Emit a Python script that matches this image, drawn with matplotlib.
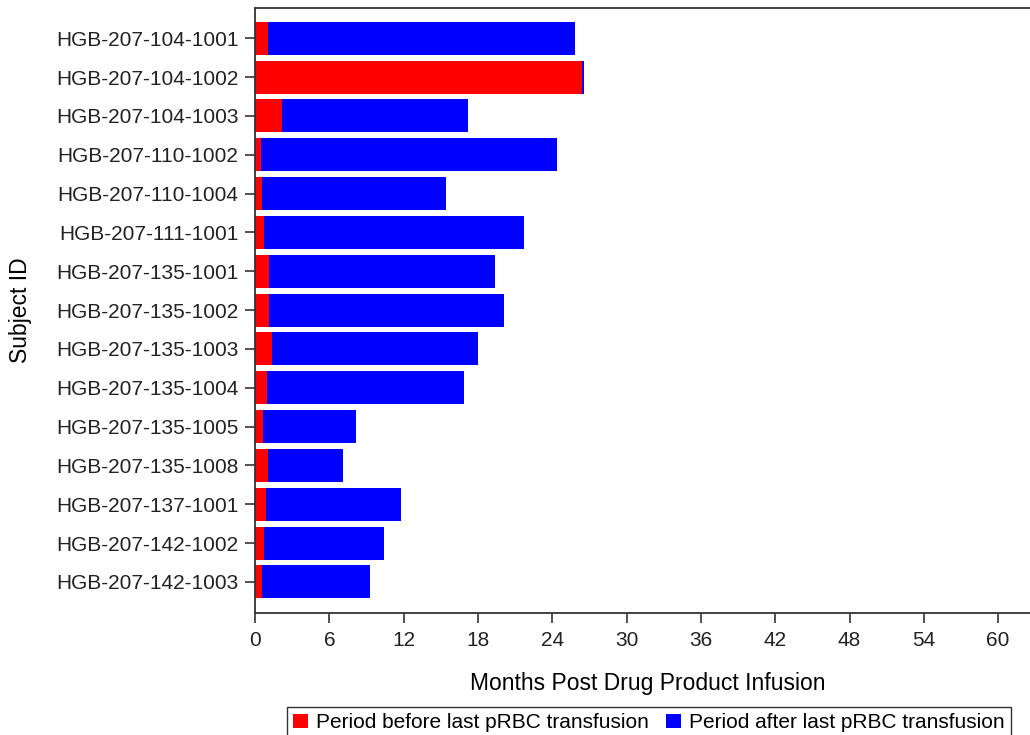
import matplotlib.pyplot as plt
import matplotlib as mpl

mpl.rcParams["font.family"] = ["Liberation Sans", "DejaVu Sans"]

subjects = ["HGB-207-104-1001", "HGB-207-104-1002", "HGB-207-104-1003",
            "HGB-207-110-1002", "HGB-207-110-1004", "HGB-207-111-1001",
            "HGB-207-135-1001", "HGB-207-135-1002", "HGB-207-135-1003",
            "HGB-207-135-1004", "HGB-207-135-1005", "HGB-207-135-1008",
            "HGB-207-137-1001", "HGB-207-142-1002", "HGB-207-142-1003"]
# months before last pRBC transfusion
before = [1.08, 26.4, 2.16, 0.49, 0.54, 0.76, 1.1, 1.1, 1.35, 0.95,
          0.62, 1.05, 0.87, 0.76, 0.54]
# total follow-up months
total = [25.8, 26.55, 17.2, 24.35, 15.4, 21.7, 19.4, 20.1, 18.0, 16.9,
         8.15, 7.1, 11.8, 10.45, 9.25]
after = [t - b for t, b in zip(total, before)]

fig = plt.figure(figsize=(10.3, 7.35), dpi=100)
ax = fig.add_axes([255 / 1030, 1 - 613 / 735, 1 - 255 / 1030 + 0.01, (613 - 8) / 735])

ypos = list(range(len(subjects)))
ax.barh(ypos, before, height=0.85, color="#ff0000", edgecolor="none",
        label="Period before last pRBC transfusion")
ax.barh(ypos, after, left=before, height=0.85, color="#0000ff", edgecolor="none",
        label="Period after last pRBC transfusion")

ax.set_ylim(14.8, -0.78)
ax.set_xlim(0, 63.4)
ax.set_yticks(ypos)
ax.set_yticklabels(subjects)
ax.set_xticks(range(0, 61, 6))
ax.tick_params(labelsize=15, colors="#333333", labelcolor="#222222", length=7, width=1.2)
ax.tick_params(axis="x", pad=6)
ax.tick_params(axis="y", pad=5)
for s in ax.spines.values():
    s.set_color("#333333")
    s.set_linewidth(1.3)

ax.set_xlabel("Months Post Drug Product Infusion", fontsize=16.5, labelpad=16)
ax.set_ylabel("Subject ID", fontsize=16.5, labelpad=17)

fig.legend(loc="upper center", bbox_to_anchor=(649 / 1030, 1 - 707 / 735),
           ncol=2, fontsize=15, frameon=True, fancybox=False, edgecolor="black",
           handlelength=0.7, handleheight=0.7, handletextpad=0.4, columnspacing=0.8,
           borderpad=0.3, borderaxespad=0)

fig.savefig("out.png", dpi=100)
